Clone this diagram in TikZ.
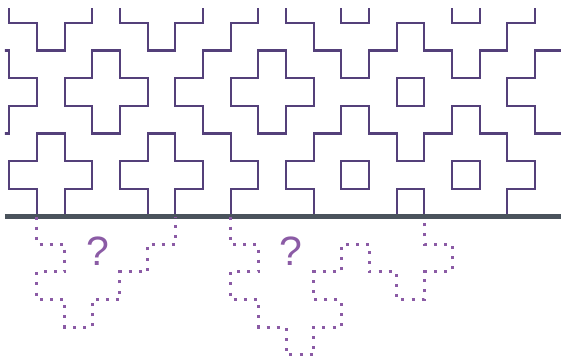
\documentclass[tikz,border=0pt]{standalone}
\usepackage{fontspec}
\setmainfont{Liberation Sans}
\usetikzlibrary{positioning}
\definecolor{mazeline}{RGB}{84,64,122}
\definecolor{ghost}{RGB}{139,91,165}
\definecolor{floorgray}{RGB}{74,83,92}

\begin{document}
\begin{tikzpicture}[x=27.67pt, y=27.67pt,
    wall/.style={draw=mazeline, line width=2.2pt},
    trace/.style={draw=ghost, line width=3pt, dash pattern=on 3pt off 7.1pt},
    qmark/.style={text=ghost, font=\fontsize{41}{41}\selectfont, inner sep=0pt}]
  \useasboundingbox (-9.3pt,-143.4pt) rectangle (551.7pt,216.6pt);

  % wall pattern above the floor
  \begin{scope}
    \clip (-4.3pt,0) rectangle (551.7pt,208.6pt);
    \draw[wall] (0,8) -- (0,7) -- (1,7) -- (1,6) -- (2,6) -- (2,7) -- (3,7) -- (3,8);
    \draw[wall] (4,8) -- (4,7) -- (5,7) -- (5,6) -- (6,6) -- (6,7) -- (7,7) -- (7,8);
    \draw[wall] (-1,6) -- (0,6) -- (0,5) -- (1,5) -- (1,4) -- (0,4) -- (0,3) -- (-1,3);
    \draw[wall] (3,6) -- (4,6) -- (4,5) -- (5,5) -- (5,4) -- (4,4) -- (4,3) -- (3,3)
      -- (3,4) -- (2,4) -- (2,5) -- (3,5) -- cycle;
    \draw[wall] (9,8) -- (9,7) -- (8,7) -- (8,6) -- (7,6) -- (7,5) -- (6,5) -- (6,4)
      -- (7,4) -- (7,3) -- (8,3) -- (8,2) -- (9,2) -- (9,1) -- (8,1) -- (8,0);
    \draw[wall] (1,0) -- (1,1) -- (0,1) -- (0,2) -- (1,2) -- (1,3) -- (2,3) -- (2,2)
      -- (3,2) -- (3,1) -- (2,1) -- (2,0);
    \draw[wall] (5,0) -- (5,1) -- (4,1) -- (4,2) -- (5,2) -- (5,3) -- (6,3) -- (6,2)
      -- (7,2) -- (7,1) -- (6,1) -- (6,0);
    \draw[wall] (9,6) -- (10,6) -- (10,5) -- (11,5) -- (11,4) -- (10,4) -- (10,3) -- (9,3)
      -- (9,4) -- (8,4) -- (8,5) -- (9,5) -- cycle;
    \draw[wall] (10,8) -- (10,7) -- (11,7) -- (11,6) -- (12,6) -- (12,5) -- (13,5) -- (13,6)
      -- (14,6) -- (14,7) -- (15,7) -- (15,6) -- (16,6) -- (16,5) -- (17,5) -- (17,6)
      -- (18,6) -- (18,7) -- (19,7) -- (19,8);
    \draw[wall] (12,8) -- (12,7) -- (13,7) -- (13,8);
    \draw[wall] (16,8) -- (16,7) -- (17,7) -- (17,8);
    \draw[wall] (11,0) -- (11,1) -- (10,1) -- (10,2) -- (11,2) -- (11,3) -- (12,3) -- (12,4)
      -- (13,4) -- (13,3) -- (14,3) -- (14,2) -- (15,2) -- (15,3) -- (16,3) -- (16,4)
      -- (17,4) -- (17,3) -- (18,3) -- (18,2) -- (19,2) -- (19,1) -- (18,1) -- (18,0);
    \draw[wall] (21,6) -- (19,6) -- (19,5) -- (18,5) -- (18,4) -- (19,4) -- (19,3) -- (21,3);
    \draw[wall] (14,0) -- (14,1) -- (15,1) -- (15,0);
    \foreach \x/\y in {12/1, 14/4, 16/1}
      \draw[wall] (\x,\y) rectangle (\x+1,\y+1);
  \end{scope}

  % floor
  \draw[floorgray, line width=5pt] (-4.3pt,0) -- (551.7pt,0);

  % dotted pieces below
  \draw[trace] (1,0) -- (1,-1) -- (2,-1) -- (2,-2) -- (1,-2) -- (1,-3) -- (2,-3) -- (2,-4)
    -- (3,-4) -- (3,-3) -- (4,-3) -- (4,-2) -- (5,-2) -- (5,-1) -- (6,-1) -- (6,0);
  \draw[trace] (8,0) -- (8,-1) -- (9,-1) -- (9,-2) -- (8,-2) -- (8,-3) -- (9,-3) -- (9,-4)
    -- (10,-4) -- (10,-5) -- (11,-5) -- (11,-4) -- (12,-4) -- (12,-3) -- (11,-3) -- (11,-2)
    -- (12,-2) -- (12,-1) -- (13,-1) -- (13,-2) -- (14,-2) -- (14,-3) -- (15,-3) -- (15,-2)
    -- (16,-2) -- (16,-1) -- (15,-1) -- (15,0);

  \node[qmark] (q1) at (89pt,-35pt) {?};
  \node[qmark] (q2) at (281.7pt,-34.5pt) {?};
\end{tikzpicture}
\end{document}
